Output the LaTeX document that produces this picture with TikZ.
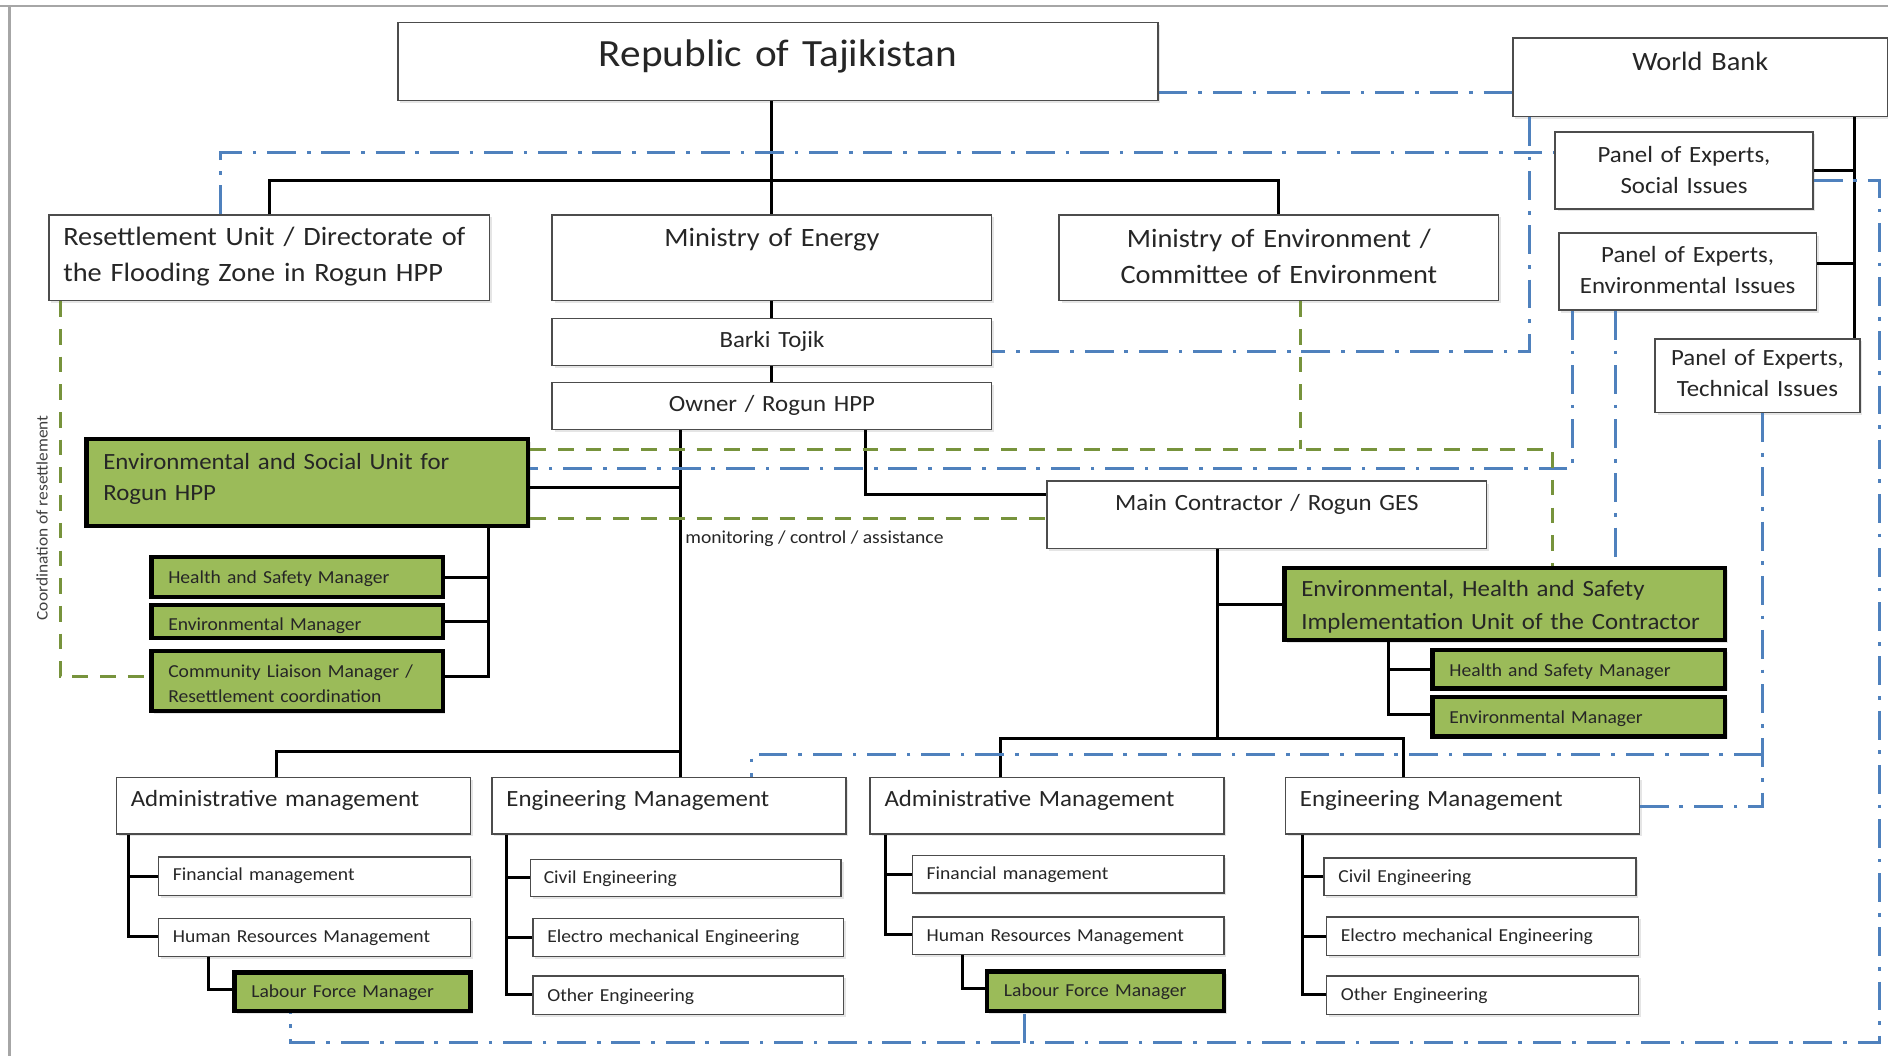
\documentclass[tikz,border=0pt]{standalone}
\usepackage{fontspec}
\setmainfont{Carlito}[FakeStretch=1.07]
\usetikzlibrary{shadows}
\definecolor{unitgreen}{HTML}{9BBB59}
\definecolor{linkblue}{HTML}{4F81BD}
\definecolor{linkgreen}{HTML}{77933C}

\begin{document}
\begin{tikzpicture}[
  x=1pt,
  y=-1pt,
  box/.style={
    draw=black!70,
    line width=1.2pt,
    fill=white,
    drop shadow={shadow xshift=2pt, shadow yshift=-2pt, fill=black!20},
    anchor=north west,
    inner xsep=12pt,
    inner ysep=0pt,
    text=black!85
  },
  unit/.style={
    box,
    draw=black,
    line width=3.5pt,
    fill=unitgreen,
    inner xsep=14pt
  },
  sz/.style n args={3}{text width=#1pt, text height=#2pt, text depth=#3pt},
  fhuge/.style={font=\fontsize{32}{38}\selectfont},
  fbig/.style={font=\fontsize{22}{30}\selectfont},
  fmid/.style={font=\fontsize{19.3}{26}\selectfont},
  fsmall/.style={font=\fontsize{15.2}{21}\selectfont},
  link/.style={draw=black, line width=2.5pt},
  blue link/.style={draw=linkblue, line width=2.5pt, dash pattern=on 24pt off 9pt on 3pt off 9pt},
  green link/.style={draw=linkgreen, line width=2.5pt, dash pattern=on 13pt off 10pt},
]
\useasboundingbox (0,0) rectangle (1568,877);
\draw[black!35, line width=2pt] (0,5) -- (1568,5);
\draw[black!35, line width=2pt] (8,5) -- (8,877);

% top level
\node[box, fhuge, align=center, sz={607}{37}{28}] (rep) at (330,18) {Republic of Tajikistan};
\node[box, fbig, align=center, sz={287}{27}{38}] (wb) at (1256,31) {World Bank};
\node[box, fmid, align=center, sz={190}{25}{39}] (pes) at (1291,109) {Panel of Experts,\\Social Issues};
\node[box, fmid, align=center, sz={190}{24}{40}] (pee) at (1294,193) {Panel of Experts,\\Environmental Issues};
\node[box, fmid, align=center, sz={146}{22}{39}] (pet) at (1374,281) {Panel of Experts,\\Technical Issues};
\node[box, fbig, align=left, sz={342}{25}{46}] (res) at (40,178) {Resettlement Unit / Directorate of\\the Flooding Zone in Rogun HPP};
\node[box, fbig, align=center, sz={341}{26}{45}] (moe) at (458,178) {Ministry of Energy};
\node[box, fbig, align=center, sz={341}{27}{44}] (men) at (879,178) {Ministry of Environment /\\Committee of Environment};
\node[box, fmid, align=center, sz={341}{24}{15}] (barki) at (458,264) {Barki Tojik};
\node[box, fmid, align=center, sz={341}{24}{15}] (owner) at (458,317) {Owner / Rogun HPP};

% units
\node[unit, fmid, align=left, sz={339}{25}{47}] (esu) at (70,363) {Environmental and Social Unit for\\Rogun HPP};
\node[unit, fsmall, align=left, sz={214}{22}{11}] (esuhs) at (124,461) {Health and Safety Manager};
\node[unit, fsmall, align=left, sz={214}{21}{6}] (esuenv) at (124,501) {Environmental Manager};
\node[unit, fsmall, align=left, sz={214}{22}{28}] (esucl) at (124,539) {Community Liaison Manager /\\Resettlement coordination};
\node[box, fmid, align=center, sz={341}{24}{32}] (mc) at (869,399) {Main Contractor / Rogun GES};
\node[unit, font=\fontsize{19.3}{27}\selectfont, align=left, sz={338}{24}{36}] (ehs) at (1065,470) {Environmental, Health and Safety\\Implementation Unit of the Contractor};
\node[unit, fsmall, align=left, sz={215}{22}{10}] (ehshs) at (1188,538) {Health and Safety Manager};
\node[unit, fsmall, align=left, sz={215}{22}{11}] (ehsenv) at (1188,577) {Environmental Manager};
\node[fsmall, anchor=base west, inner sep=0pt, text=black!85] (mon) at (569,451) {monitoring / control / assistance};
\node[font=\fontsize{13.5}{16}\selectfont, rotate=90, text=black!75] (coord) at (35,430) {Coordination of resettlement};

% management
\node[box, fmid, align=left, sz={270}{24}{23}] (adm1) at (96,645) {Administrative management};
\node[box, fmid, align=left, sz={270}{24}{23}] (eng1) at (408,645) {Engineering Management};
\node[box, fmid, align=left, sz={270}{24}{23}] (adm2) at (722,645) {Administrative Management};
\node[box, fmid, align=left, sz={270}{24}{23}] (eng2) at (1067,645) {Engineering Management};
\node[box, fsmall, align=left, sz={235}{20}{12}] (fin1) at (131,711) {Financial management};
\node[box, fsmall, align=left, sz={235}{20}{12}] (hr1) at (131,762) {Human Resources Management};
\node[unit, fsmall, align=left, sz={168}{21}{11}] (lab1) at (193,806) {Labour Force Manager};
\node[box, fsmall, align=left, inner xsep=11pt, sz={236}{20}{11}] (civ1) at (440,713) {Civil Engineering};
\node[box, fsmall, align=left, sz={234}{20}{12}] (ele1) at (442,762) {Electro mechanical Engineering};
\node[box, fsmall, align=left, sz={234}{21}{11}] (oth1) at (442,810) {Other Engineering};
\node[box, fsmall, align=left, sz={235}{20}{11}] (fin2) at (757,710) {Financial management};
\node[box, fsmall, align=left, sz={235}{20}{11}] (hr2) at (757,761) {Human Resources Management};
\node[unit, fsmall, align=left, sz={169}{21}{12}] (lab2) at (818,805) {Labour Force Manager};
\node[box, fsmall, align=left, sz={235}{20}{11}] (civ2) at (1099,712) {Civil Engineering};
\node[box, fsmall, align=left, sz={235}{20}{12}] (ele2) at (1101,761) {Electro mechanical Engineering};
\node[box, fsmall, align=left, sz={235}{20}{12}] (oth2) at (1101,810) {Other Engineering};

% solid links
\coordinate (topbus) at (641,150);
\draw[link] (moe.north |- rep.south) -- (moe.north);
\draw[link] (res.north) |- (topbus) -| (men.north);
\draw[link] (moe) -- (barki);
\draw[link] (barki) -- (owner);
\coordinate (wbbus) at (1540,219);
\draw[link] (wbbus |- wb.south) -- (wbbus |- pet.north);
\draw[link] (pes.east) -- (pes.east -| wbbus);
\draw[link] (wbbus -| pee.east) -- (wbbus);

\coordinate (trunkL) at (565,624);
\coordinate (admhub1) at (230,624);
\coordinate (esuhub) at (565,405);
\draw[link] (owner.south -| trunkL) -- (eng1.north -| trunkL);
\draw[link] (admhub1 |- adm1.north) -- (admhub1) -- (trunkL);
\draw[link] (esuhub -| esu.east) -- (esuhub);
\coordinate (esubus) at (406,562);
\draw[link] (esubus |- esu.south) -- (esubus) -- (esubus -| esucl.east);
\draw[link] (esuhs.east) -- (esuhs.east -| esubus);
\draw[link] (esuenv.east) -- (esuenv.east -| esubus);

\coordinate (mchub) at (719,411);
\draw[link] (mchub |- owner.south) -- (mchub) -- (mchub -| mc.west);
\coordinate (trunkR) at (1011,613);
\coordinate (admhub2) at (831,613);
\coordinate (enghub2) at (1166,613);
\draw[link] (trunkR |- mc.south) -- (trunkR);
\draw[link] (ehs.west) -- (ehs.west -| trunkR);
\draw[link] (admhub2 |- adm2.north) -- (admhub2) -- (enghub2) -- (enghub2 |- eng2.north);
\coordinate (ehsbus) at (1153,593);
\draw[link] (ehsbus |- ehs.south) -- (ehsbus) -- (ehsbus -| ehsenv.west);
\draw[link] (ehshs.west) -- (ehshs.west -| ehsbus);

\coordinate (admbus1) at (107,778);
\coordinate (labbus1) at (173,822);
\coordinate (engbus1) at (421,826);
\draw[link] (admbus1 |- adm1.south) -- (admbus1) -- (admbus1 -| hr1.west);
\draw[link] (fin1.west) -- (fin1.west -| admbus1);
\draw[link] (labbus1 |- hr1.south) -- (labbus1) -- (labbus1 -| lab1.west);
\draw[link] (engbus1 |- eng1.south) -- (engbus1) -- (engbus1 -| oth1.west);
\draw[link] (civ1.west) -- (civ1.west -| engbus1);
\draw[link] (ele1.west) -- (ele1.west -| engbus1);

\coordinate (admbus2) at (735,776);
\coordinate (labbus2) at (799,821);
\coordinate (engbus2) at (1082,826);
\draw[link] (admbus2 |- adm2.south) -- (admbus2) -- (admbus2 -| hr2.west);
\draw[link] (fin2.west) -- (fin2.west -| admbus2);
\draw[link] (labbus2 |- hr2.south) -- (labbus2) -- (labbus2 -| lab2.west);
\draw[link] (engbus2 |- eng2.south) -- (engbus2) -- (engbus2 -| oth2.west);
\draw[link] (civ2.west) -- (civ2.west -| engbus2);
\draw[link] (ele2.west) -- (ele2.west -| engbus2);

% dash-dot links
\coordinate (bl1) at (1100,77);
\coordinate (bl2) at (183,127);
\coordinate (bl3) at (1270,292);
\coordinate (bl4) at (1306,389);
\coordinate (bl5) at (1342,400);
\coordinate (bl6) at (1464,670);
\coordinate (bl7) at (624,627);
\coordinate (bl8) at (1561,150);
\coordinate (bl9) at (241,866);
\coordinate (bl10) at (851,866);
\draw[blue link] (bl1 -| rep.east) -- (bl1 -| wb.west);
\draw[blue link] (bl2 |- res.north) -- (bl2) -- (bl2 -| pes.west);
\draw[blue link] (bl3 |- wb.south) -- (bl3) -- (bl3 -| barki.east);
\draw[blue link] (bl4 |- pee.south) -- (bl4) -- (bl4 -| esu.east);
\draw[blue link] (bl5 |- pee.south) -- (bl5 |- ehs.north);
\draw[blue link] (bl6 |- pet.south) -- (bl6) -- (bl6 -| eng2.east);
\draw[blue link] (bl7 -| bl6) -- (bl7) -- (bl7 |- eng1.north);
\draw[blue link] (bl8 -| pes.east) -- (bl8) -- (bl8 |- bl9) -- (bl9) -- (bl9 |- lab1.south);
\draw[blue link] (bl10) -- (bl10 |- lab2.south);

% dashed links
\coordinate (gr1) at (50,562);
\coordinate (gr2) at (1289,373);
\coordinate (gr3) at (1080,373);
\coordinate (gr4) at (700,431);
\draw[green link] (gr1 |- res.south) -- (gr1) -- (gr1 -| esucl.west);
\draw[green link] (gr2 -| esu.east) -- (gr2) -- (gr2 |- ehs.north);
\draw[green link] (gr3 |- men.south) -- (gr3);
\draw[green link] (gr4 -| esu.east) -- (gr4 -| mc.west);
\end{tikzpicture}
\end{document}
